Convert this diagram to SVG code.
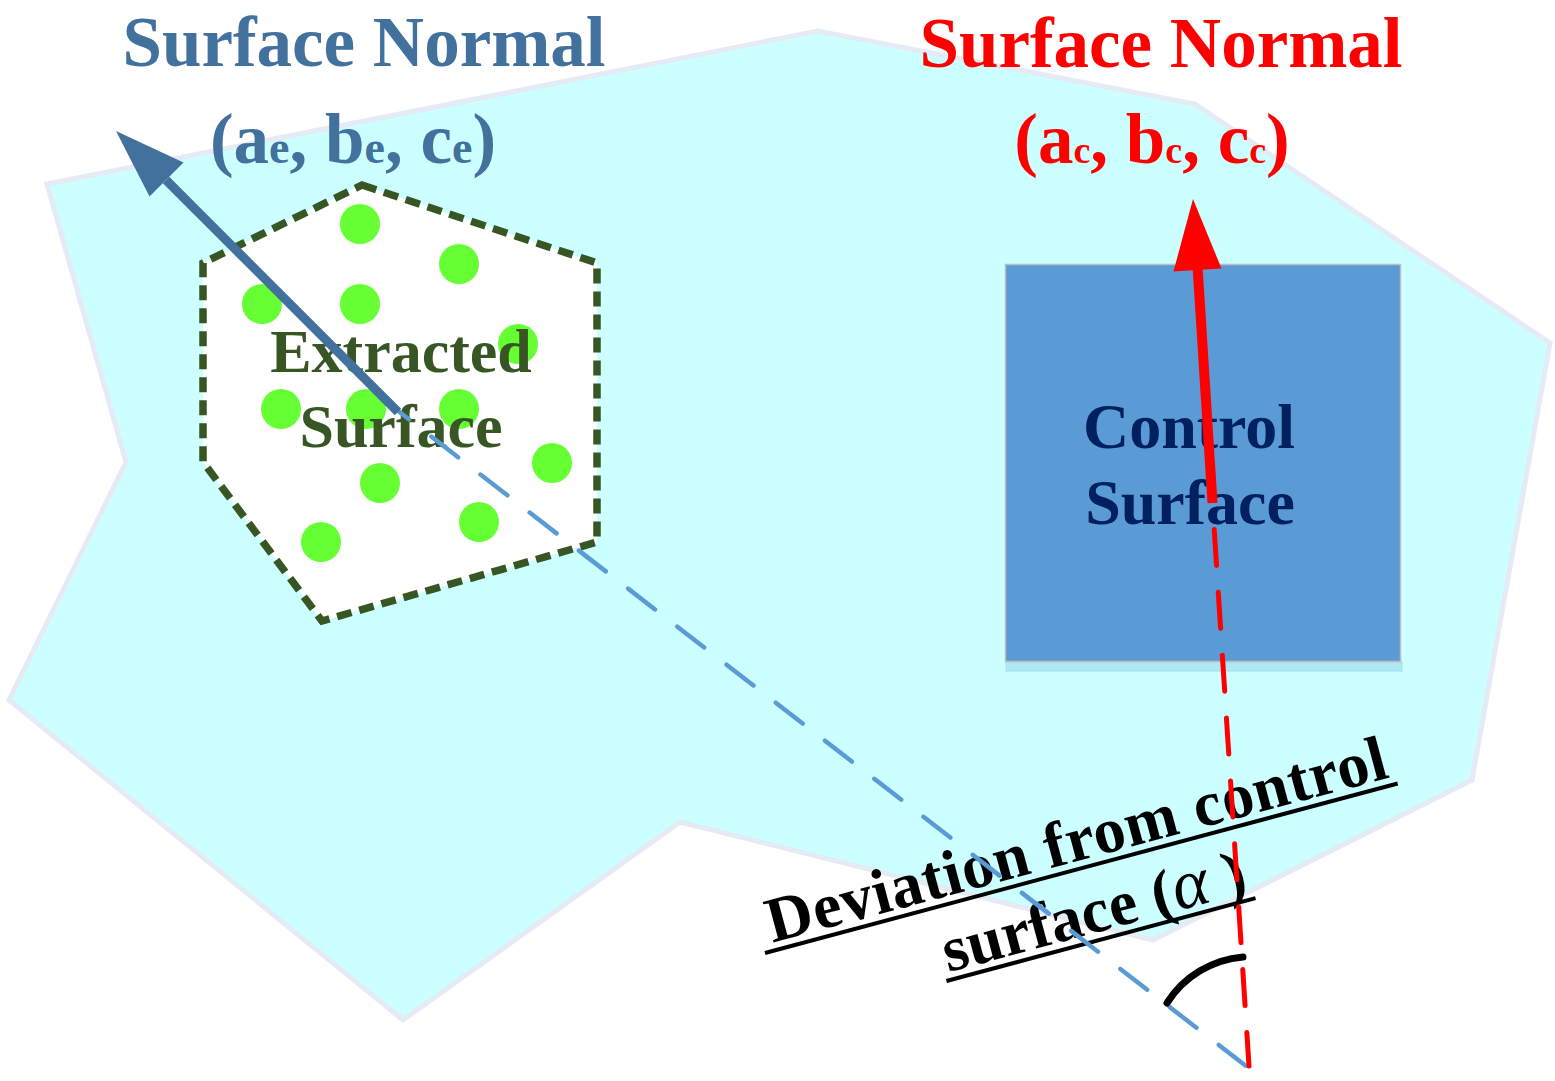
<svg xmlns="http://www.w3.org/2000/svg" width="1555" height="1081" viewBox="0 0 1555 1081">
  <style>
    .serif { font-family: "Liberation Serif", "Times New Roman", serif; font-weight: bold; }
    .title-blue { fill: #41719c; font-size: 71px; text-anchor: middle; }
    .title-red { fill: #ff0000; font-size: 71px; text-anchor: middle; }
    .ext-label { fill: #375623; font-size: 62px; text-anchor: middle; }
    .ctl-label { fill: #002060; font-size: 64px; text-anchor: middle; }
    .dev-label { fill: #000000; font-size: 64px; text-anchor: middle; }
    .underline { stroke: #000000; stroke-width: 4; }
    .dot { fill: #66ff33; }
  </style>

  <!-- background surface -->
  <g id="background-surface">
    <polygon points="47,184 818,31 1195,104 1550,343 1472,780 1153,940 680,822 403,1020 9,700 126,462" fill="#ccffff" stroke="#e6eaf5" stroke-width="5" stroke-linejoin="miter"/>
  </g>

  <!-- extracted surface node -->
  <g id="extracted-surface">
    <polygon points="362,185 597,263 597,542 322,621 203,462 203,263" fill="#ffffff" stroke="#375623" stroke-width="7.5" stroke-dasharray="15 8"/>
    <circle class="dot" cx="360" cy="224" r="20"/>
    <circle class="dot" cx="459" cy="264" r="20"/>
    <circle class="dot" cx="262" cy="304" r="20"/>
    <circle class="dot" cx="360" cy="304" r="20"/>
    <circle class="dot" cx="518" cy="344" r="20"/>
    <circle class="dot" cx="281" cy="409" r="20"/>
    <circle class="dot" cx="366" cy="409" r="20"/>
    <circle class="dot" cx="459" cy="409" r="20"/>
    <circle class="dot" cx="552" cy="463" r="20"/>
    <circle class="dot" cx="380" cy="483" r="20"/>
    <circle class="dot" cx="479" cy="522" r="20"/>
    <circle class="dot" cx="321" cy="542" r="20"/>
    <text class="serif ext-label" x="401" y="372">Extracted</text>
    <text class="serif ext-label" x="401" y="447">Surface</text>
  </g>

  <!-- control surface node -->
  <g id="control-surface">
    <rect x="1006" y="662" width="396" height="9" fill="#aee8f5" stroke="#a6dcec" stroke-width="1"/>
    <rect x="1005.5" y="264.5" width="395" height="397" fill="#5b9bd5" stroke="#bdbdbd" stroke-width="1.5"/>
    <text class="serif ctl-label" x="1189" y="448">Control</text>
    <text class="serif ctl-label" x="1190" y="524">Surface</text>
  </g>

  <!-- normal labels -->
  <g id="label-extracted-normal">
    <text class="serif title-blue" x="364" y="66">Surface Normal</text>
    <text class="serif title-blue" x="353" y="163">(a<tspan font-size="46">e</tspan>, b<tspan font-size="46">e</tspan>, c<tspan font-size="46">e</tspan>)</text>
  </g>
  <g id="label-control-normal">
    <text class="serif title-red" x="1161" y="67">Surface Normal</text>
    <text class="serif title-red" x="1152" y="163">(a<tspan font-size="38">c</tspan>, b<tspan font-size="38">c</tspan>, c<tspan font-size="38">c</tspan>)</text>
  </g>

  <!-- deviation label -->
  <g id="label-deviation" transform="translate(765,953) rotate(-15)">
    <text class="serif dev-label" x="330" y="-8" textLength="640" lengthAdjust="spacing">Deviation from control</text>
    <line class="underline" x1="0" y1="0" x2="655" y2="0"/>
    <text class="serif dev-label" x="328" y="66" textLength="312" lengthAdjust="spacing">surface (<tspan font-style="italic" font-weight="normal" font-size="70">α</tspan> )</text>
    <line class="underline" x1="168" y1="74" x2="488" y2="74"/>
  </g>

  <!-- connectors -->
  <g id="connectors">
    <line x1="382" y1="398.5" x2="1246" y2="1066" stroke="#5b9bd5" stroke-width="4.5" stroke-linecap="round" stroke-dasharray="34 28.2"/>
    <line x1="166" y1="180" x2="398" y2="412" stroke="#41719c" stroke-width="9"/>
    <polygon points="116,131 183.5,162.5 149.5,196.5" fill="#41719c"/>
    <line x1="1214.2" y1="529.5" x2="1249" y2="1066" stroke="#ff0000" stroke-width="5" stroke-linecap="round" stroke-dasharray="36 27"/>
    <line x1="1197.5" y1="266" x2="1212.5" y2="503" stroke="#ff0000" stroke-width="10"/>
    <polygon points="1193,199 1221.5,268.5 1173.5,271.5" fill="#ff0000"/>
    <path d="M1167,1003 A100,100 0 0 1 1243,957" fill="none" stroke="#000000" stroke-width="7" stroke-linecap="round"/>
  </g>
</svg>
